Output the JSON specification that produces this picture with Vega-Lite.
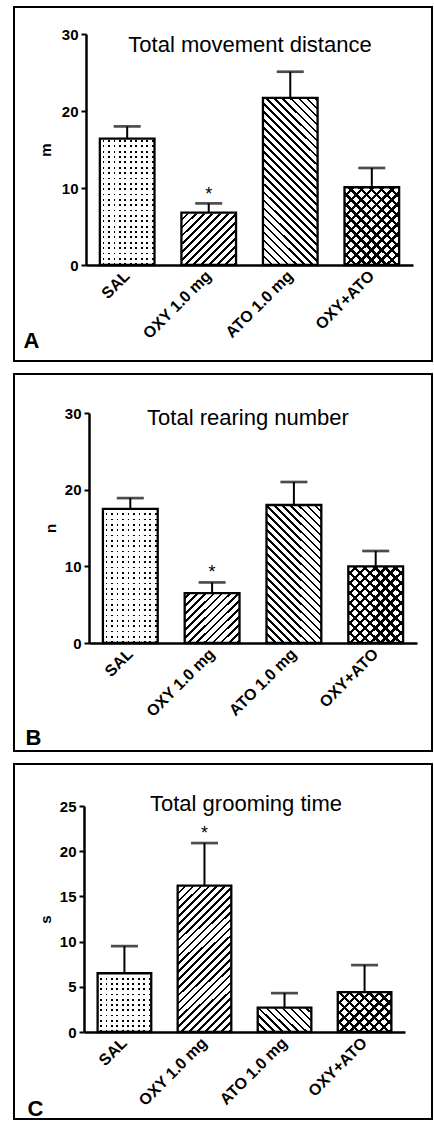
{
"padding": {"left": 13, "top": 6, "right": 0, "bottom": 0},
"background": "#ffffff",
"spacing": 11,
"datasets": {
 "A": [
  {"g": "SAL", "mean": 16.4, "hi": 18.0},
  {"g": "OXY 1.0 mg", "mean": 6.8, "hi": 8.0, "star": 9.6},
  {"g": "ATO 1.0 mg", "mean": 21.7, "hi": 25.1},
  {"g": "OXY+ATO", "mean": 10.1, "hi": 12.6}
 ],
 "B": [
  {"g": "SAL", "mean": 17.5, "hi": 18.9},
  {"g": "OXY 1.0 mg", "mean": 6.5, "hi": 7.9, "star": 9.7},
  {"g": "ATO 1.0 mg", "mean": 18.0, "hi": 21.0},
  {"g": "OXY+ATO", "mean": 10.0, "hi": 12.0}
 ],
 "C": [
  {"g": "SAL", "mean": 6.5, "hi": 9.5},
  {"g": "OXY 1.0 mg", "mean": 16.2, "hi": 20.9, "star": 22.4},
  {"g": "ATO 1.0 mg", "mean": 2.7, "hi": 4.3},
  {"g": "OXY+ATO", "mean": 4.4, "hi": 7.4}
 ]
},
"vconcat": [
 {
  "width": 418, "height": 354,
  "data": {"name": "A"},
  "title": {"text": "Total movement distance", "dx": 27, "offset": -50, "zindex": 1},
  "encoding": {
   "x": {"field": "g", "type": "nominal",
    "scale": {"domain": ["SAL", "OXY 1.0 mg", "ATO 1.0 mg", "OXY+ATO"], "range": [72, 399], "paddingInner": 0.33, "paddingOuter": 0.17},
    "axis": {"title": "A", "zindex": 1, "offset": -96, "labelAngle": -45, "labelAlign": "right", "labelBaseline": "middle", "labelPadding": 8, "labelFontSize": 16, "ticks": false, "tickSize": 0, "labelOverlap": false, "titleX": 9, "titleY": 82, "titleAlign": "left", "titleAngle": 0, "titleBaseline": "alphabetic", "titleFontSize": 22}}
  },
  "layer": [
   {"transform": [{"filter": "datum.g == 'SAL'"}], "mark": {"type": "rect", "style": "dotH"}, "encoding": {"y": {"datum": 30, "type": "quantitative"}, "y2": {"datum": 0}}},
   {"transform": [{"filter": "datum.g == 'SAL'"}], "mark": {"type": "rect", "style": "dotV"}, "encoding": {"y": {"datum": 30, "type": "quantitative"}, "y2": {"datum": 0}}},
   {"transform": [{"filter": "datum.g == 'OXY 1.0 mg'"}], "mark": {"type": "rect", "style": "fwd8"}, "encoding": {"y": {"datum": 30, "type": "quantitative"}, "y2": {"datum": 0}}},
   {"transform": [{"filter": "datum.g == 'ATO 1.0 mg'"}], "mark": {"type": "rect", "style": "back8"}, "encoding": {"y": {"datum": 30, "type": "quantitative"}, "y2": {"datum": 0}}},
   {"transform": [{"filter": "datum.g == 'OXY+ATO'"}], "mark": {"type": "rect", "style": "fwd10"}, "encoding": {"y": {"datum": 30, "type": "quantitative"}, "y2": {"datum": 0}}},
   {"transform": [{"filter": "datum.g == 'OXY+ATO'"}], "mark": {"type": "rect", "style": "back10"}, "encoding": {"y": {"datum": 30, "type": "quantitative"}, "y2": {"datum": 0}}},
   {"mark": {"type": "rect", "fill": "#ffffff", "stroke": "#ffffff", "strokeWidth": 1.5}, "encoding": {"y": {"field": "mean", "type": "quantitative"}, "y2": {"datum": 30}}},
   {"mark": {"type": "rect", "filled": false, "stroke": "#000000", "strokeWidth": 2.3},
    "encoding": {"y": {"field": "mean", "type": "quantitative", "scale": {"domain": [0, 30], "range": [258, 27], "nice": false},
      "axis": {"title": "m", "zindex": 1, "offset": -72, "values": [0, 10, 20, 30], "titleX": -41, "titleY": 142.5, "titleAngle": -90, "titleAlign": "center", "titleBaseline": "middle"}},
     "y2": {"datum": 0}}},
   {"mark": {"type": "rule", "color": "#000000", "strokeWidth": 2}, "encoding": {"y": {"field": "mean", "type": "quantitative"}, "y2": {"field": "hi"}}},
   {"mark": {"type": "tick", "color": "#000000", "size": 27, "thickness": 2.7}, "encoding": {"y": {"field": "hi", "type": "quantitative"}}},
   {"mark": {"type": "text", "text": "*", "fontSize": 18, "baseline": "middle", "dy": 4, "color": "#000000"}, "encoding": {"y": {"field": "star", "type": "quantitative"}}}
  ]
 },
 {
  "width": 418, "height": 377,
  "data": {"name": "B"},
  "title": {"text": "Total rearing number", "dx": 25, "offset": -56, "zindex": 1},
  "encoding": {
   "x": {"field": "g", "type": "nominal",
    "scale": {"domain": ["SAL", "OXY 1.0 mg", "ATO 1.0 mg", "OXY+ATO"], "range": [75, 403], "paddingInner": 0.33, "paddingOuter": 0.17},
    "axis": {"title": "B", "zindex": 1, "offset": -108, "labelAngle": -45, "labelAlign": "right", "labelBaseline": "middle", "labelPadding": 8, "labelFontSize": 16, "ticks": false, "tickSize": 0, "labelOverlap": false, "titleX": 11, "titleY": 101, "titleAlign": "left", "titleAngle": 0, "titleBaseline": "alphabetic", "titleFontSize": 22}}
  },
  "layer": [
   {"transform": [{"filter": "datum.g == 'SAL'"}], "mark": {"type": "rect", "style": "dotH"}, "encoding": {"y": {"datum": 30, "type": "quantitative"}, "y2": {"datum": 0}}},
   {"transform": [{"filter": "datum.g == 'SAL'"}], "mark": {"type": "rect", "style": "dotV"}, "encoding": {"y": {"datum": 30, "type": "quantitative"}, "y2": {"datum": 0}}},
   {"transform": [{"filter": "datum.g == 'OXY 1.0 mg'"}], "mark": {"type": "rect", "style": "fwd8"}, "encoding": {"y": {"datum": 30, "type": "quantitative"}, "y2": {"datum": 0}}},
   {"transform": [{"filter": "datum.g == 'ATO 1.0 mg'"}], "mark": {"type": "rect", "style": "back8"}, "encoding": {"y": {"datum": 30, "type": "quantitative"}, "y2": {"datum": 0}}},
   {"transform": [{"filter": "datum.g == 'OXY+ATO'"}], "mark": {"type": "rect", "style": "fwd10"}, "encoding": {"y": {"datum": 30, "type": "quantitative"}, "y2": {"datum": 0}}},
   {"transform": [{"filter": "datum.g == 'OXY+ATO'"}], "mark": {"type": "rect", "style": "back10"}, "encoding": {"y": {"datum": 30, "type": "quantitative"}, "y2": {"datum": 0}}},
   {"mark": {"type": "rect", "fill": "#ffffff", "stroke": "#ffffff", "strokeWidth": 1.5}, "encoding": {"y": {"field": "mean", "type": "quantitative"}, "y2": {"datum": 30}}},
   {"mark": {"type": "rect", "filled": false, "stroke": "#000000", "strokeWidth": 2.3},
    "encoding": {"y": {"field": "mean", "type": "quantitative", "scale": {"domain": [0, 30], "range": [269, 39], "nice": false},
      "axis": {"title": "n", "zindex": 1, "offset": -75, "values": [0, 10, 20, 30], "titleX": -39, "titleY": 154, "titleAngle": -90, "titleAlign": "center", "titleBaseline": "middle"}},
     "y2": {"datum": 0}}},
   {"mark": {"type": "rule", "color": "#000000", "strokeWidth": 2}, "encoding": {"y": {"field": "mean", "type": "quantitative"}, "y2": {"field": "hi"}}},
   {"mark": {"type": "tick", "color": "#000000", "size": 27, "thickness": 2.7}, "encoding": {"y": {"field": "hi", "type": "quantitative"}}},
   {"mark": {"type": "text", "text": "*", "fontSize": 18, "baseline": "middle", "dy": 4, "color": "#000000"}, "encoding": {"y": {"field": "star", "type": "quantitative"}}}
  ]
 },
 {
  "width": 418, "height": 355,
  "data": {"name": "C"},
  "title": {"text": "Total grooming time", "dx": 23, "offset": -52, "zindex": 1},
  "encoding": {
   "x": {"field": "g", "type": "nominal",
    "scale": {"domain": ["SAL", "OXY 1.0 mg", "ATO 1.0 mg", "OXY+ATO"], "range": [70, 391], "paddingInner": 0.33, "paddingOuter": 0.17},
    "axis": {"title": "C", "zindex": 1, "offset": -87, "labelAngle": -45, "labelAlign": "right", "labelBaseline": "middle", "labelPadding": 8, "labelFontSize": 16, "ticks": false, "tickSize": 0, "labelOverlap": false, "titleX": 13, "titleY": 83, "titleAlign": "left", "titleAngle": 0, "titleBaseline": "alphabetic", "titleFontSize": 22}}
  },
  "layer": [
   {"transform": [{"filter": "datum.g == 'SAL'"}], "mark": {"type": "rect", "style": "dotH"}, "encoding": {"y": {"datum": 25, "type": "quantitative"}, "y2": {"datum": 0}}},
   {"transform": [{"filter": "datum.g == 'SAL'"}], "mark": {"type": "rect", "style": "dotV"}, "encoding": {"y": {"datum": 25, "type": "quantitative"}, "y2": {"datum": 0}}},
   {"transform": [{"filter": "datum.g == 'OXY 1.0 mg'"}], "mark": {"type": "rect", "style": "fwd8"}, "encoding": {"y": {"datum": 25, "type": "quantitative"}, "y2": {"datum": 0}}},
   {"transform": [{"filter": "datum.g == 'ATO 1.0 mg'"}], "mark": {"type": "rect", "style": "back8"}, "encoding": {"y": {"datum": 25, "type": "quantitative"}, "y2": {"datum": 0}}},
   {"transform": [{"filter": "datum.g == 'OXY+ATO'"}], "mark": {"type": "rect", "style": "fwd10"}, "encoding": {"y": {"datum": 25, "type": "quantitative"}, "y2": {"datum": 0}}},
   {"transform": [{"filter": "datum.g == 'OXY+ATO'"}], "mark": {"type": "rect", "style": "back10"}, "encoding": {"y": {"datum": 25, "type": "quantitative"}, "y2": {"datum": 0}}},
   {"mark": {"type": "rect", "fill": "#ffffff", "stroke": "#ffffff", "strokeWidth": 1.5}, "encoding": {"y": {"field": "mean", "type": "quantitative"}, "y2": {"datum": 25}}},
   {"mark": {"type": "rect", "filled": false, "stroke": "#000000", "strokeWidth": 2.3},
    "encoding": {"y": {"field": "mean", "type": "quantitative", "scale": {"domain": [0, 25], "range": [268, 42], "nice": false},
      "axis": {"title": "s", "zindex": 1, "offset": -70, "values": [0, 5, 10, 15, 20, 25], "titleX": -39, "titleY": 155, "titleAngle": -90, "titleAlign": "center", "titleBaseline": "middle"}},
     "y2": {"datum": 0}}},
   {"mark": {"type": "rule", "color": "#000000", "strokeWidth": 2}, "encoding": {"y": {"field": "mean", "type": "quantitative"}, "y2": {"field": "hi"}}},
   {"mark": {"type": "tick", "color": "#000000", "size": 27, "thickness": 2.7}, "encoding": {"y": {"field": "hi", "type": "quantitative"}}},
   {"mark": {"type": "text", "text": "*", "fontSize": 18, "baseline": "middle", "dy": 4, "color": "#000000"}, "encoding": {"y": {"field": "star", "type": "quantitative"}}}
  ]
 }
],
"config": {
 "font": "Liberation Sans",
 "view": {"stroke": "#000000", "strokeWidth": 2},
 "title": {"font": "Liberation Sans", "fontSize": 22, "fontWeight": "normal", "color": "#000000", "anchor": "middle", "frame": "group", "baseline": "alphabetic"},
 "axis": {"grid": false, "domainColor": "#000000", "domainWidth": 2.5, "tickColor": "#000000", "tickWidth": 2, "tickSize": 5, "labelColor": "#000000", "labelFont": "Liberation Sans", "labelFontWeight": "bold", "labelFontSize": 15, "labelPadding": 3, "labelFlush": false, "titleColor": "#000000", "titleFont": "Liberation Sans", "titleFontWeight": "bold", "titleFontSize": 15},
 "style": {
  "fwd8": {"color": {"gradient": "linear", "x1": 0, "y1": 0, "x2": 0.27863, "y2": 1.18676, "stops": [{"offset":0,"color":"#000"},{"offset":0.00926,"color":"#000"},{"offset":0.00926,"color":"transparent"},{"offset":0.02778,"color":"transparent"},{"offset":0.02778,"color":"#000"},{"offset":0.03704,"color":"#000"},{"offset":0.03704,"color":"transparent"},{"offset":0.05556,"color":"transparent"},{"offset":0.05556,"color":"#000"},{"offset":0.06481,"color":"#000"},{"offset":0.06481,"color":"transparent"},{"offset":0.08333,"color":"transparent"},{"offset":0.08333,"color":"#000"},{"offset":0.09259,"color":"#000"},{"offset":0.09259,"color":"transparent"},{"offset":0.11111,"color":"transparent"},{"offset":0.11111,"color":"#000"},{"offset":0.12037,"color":"#000"},{"offset":0.12037,"color":"transparent"},{"offset":0.13889,"color":"transparent"},{"offset":0.13889,"color":"#000"},{"offset":0.14815,"color":"#000"},{"offset":0.14815,"color":"transparent"},{"offset":0.16667,"color":"transparent"},{"offset":0.16667,"color":"#000"},{"offset":0.17593,"color":"#000"},{"offset":0.17593,"color":"transparent"},{"offset":0.19444,"color":"transparent"},{"offset":0.19444,"color":"#000"},{"offset":0.2037,"color":"#000"},{"offset":0.2037,"color":"transparent"},{"offset":0.22222,"color":"transparent"},{"offset":0.22222,"color":"#000"},{"offset":0.23148,"color":"#000"},{"offset":0.23148,"color":"transparent"},{"offset":0.25,"color":"transparent"},{"offset":0.25,"color":"#000"},{"offset":0.25926,"color":"#000"},{"offset":0.25926,"color":"transparent"},{"offset":0.27778,"color":"transparent"},{"offset":0.27778,"color":"#000"},{"offset":0.28704,"color":"#000"},{"offset":0.28704,"color":"transparent"},{"offset":0.30556,"color":"transparent"},{"offset":0.30556,"color":"#000"},{"offset":0.31481,"color":"#000"},{"offset":0.31481,"color":"transparent"},{"offset":0.33333,"color":"transparent"},{"offset":0.33333,"color":"#000"},{"offset":0.34259,"color":"#000"},{"offset":0.34259,"color":"transparent"},{"offset":0.36111,"color":"transparent"},{"offset":0.36111,"color":"#000"},{"offset":0.37037,"color":"#000"},{"offset":0.37037,"color":"transparent"},{"offset":0.38889,"color":"transparent"},{"offset":0.38889,"color":"#000"},{"offset":0.39815,"color":"#000"},{"offset":0.39815,"color":"transparent"},{"offset":0.41667,"color":"transparent"},{"offset":0.41667,"color":"#000"},{"offset":0.42593,"color":"#000"},{"offset":0.42593,"color":"transparent"},{"offset":0.44444,"color":"transparent"},{"offset":0.44444,"color":"#000"},{"offset":0.4537,"color":"#000"},{"offset":0.4537,"color":"transparent"},{"offset":0.47222,"color":"transparent"},{"offset":0.47222,"color":"#000"},{"offset":0.48148,"color":"#000"},{"offset":0.48148,"color":"transparent"},{"offset":0.5,"color":"transparent"},{"offset":0.5,"color":"#000"},{"offset":0.50926,"color":"#000"},{"offset":0.50926,"color":"transparent"},{"offset":0.52778,"color":"transparent"},{"offset":0.52778,"color":"#000"},{"offset":0.53704,"color":"#000"},{"offset":0.53704,"color":"transparent"},{"offset":0.55556,"color":"transparent"},{"offset":0.55556,"color":"#000"},{"offset":0.56481,"color":"#000"},{"offset":0.56481,"color":"transparent"},{"offset":0.58333,"color":"transparent"},{"offset":0.58333,"color":"#000"},{"offset":0.59259,"color":"#000"},{"offset":0.59259,"color":"transparent"},{"offset":0.61111,"color":"transparent"},{"offset":0.61111,"color":"#000"},{"offset":0.62037,"color":"#000"},{"offset":0.62037,"color":"transparent"},{"offset":0.63889,"color":"transparent"},{"offset":0.63889,"color":"#000"},{"offset":0.64815,"color":"#000"},{"offset":0.64815,"color":"transparent"},{"offset":0.66667,"color":"transparent"},{"offset":0.66667,"color":"#000"},{"offset":0.67593,"color":"#000"},{"offset":0.67593,"color":"transparent"},{"offset":0.69444,"color":"transparent"},{"offset":0.69444,"color":"#000"},{"offset":0.7037,"color":"#000"},{"offset":0.7037,"color":"transparent"},{"offset":0.72222,"color":"transparent"},{"offset":0.72222,"color":"#000"},{"offset":0.73148,"color":"#000"},{"offset":0.73148,"color":"transparent"},{"offset":0.75,"color":"transparent"},{"offset":0.75,"color":"#000"},{"offset":0.75926,"color":"#000"},{"offset":0.75926,"color":"transparent"},{"offset":0.77778,"color":"transparent"},{"offset":0.77778,"color":"#000"},{"offset":0.78704,"color":"#000"},{"offset":0.78704,"color":"transparent"},{"offset":0.80556,"color":"transparent"},{"offset":0.80556,"color":"#000"},{"offset":0.81481,"color":"#000"},{"offset":0.81481,"color":"transparent"},{"offset":0.83333,"color":"transparent"},{"offset":0.83333,"color":"#000"},{"offset":0.84259,"color":"#000"},{"offset":0.84259,"color":"transparent"},{"offset":0.86111,"color":"transparent"},{"offset":0.86111,"color":"#000"},{"offset":0.87037,"color":"#000"},{"offset":0.87037,"color":"transparent"},{"offset":0.88889,"color":"transparent"},{"offset":0.88889,"color":"#000"},{"offset":0.89815,"color":"#000"},{"offset":0.89815,"color":"transparent"},{"offset":0.91667,"color":"transparent"},{"offset":0.91667,"color":"#000"},{"offset":0.92593,"color":"#000"},{"offset":0.92593,"color":"transparent"},{"offset":0.94444,"color":"transparent"},{"offset":0.94444,"color":"#000"},{"offset":0.9537,"color":"#000"},{"offset":0.9537,"color":"transparent"},{"offset":0.97222,"color":"transparent"},{"offset":0.97222,"color":"#000"},{"offset":0.98148,"color":"#000"},{"offset":0.98148,"color":"transparent"},{"offset":1,"color":"transparent"}]}},
  "back8": {"color": {"gradient": "linear", "x1": 0, "y1": 1, "x2": 0.27863, "y2": -0.18676, "stops": [{"offset":0,"color":"#000"},{"offset":0.00926,"color":"#000"},{"offset":0.00926,"color":"transparent"},{"offset":0.02778,"color":"transparent"},{"offset":0.02778,"color":"#000"},{"offset":0.03704,"color":"#000"},{"offset":0.03704,"color":"transparent"},{"offset":0.05556,"color":"transparent"},{"offset":0.05556,"color":"#000"},{"offset":0.06481,"color":"#000"},{"offset":0.06481,"color":"transparent"},{"offset":0.08333,"color":"transparent"},{"offset":0.08333,"color":"#000"},{"offset":0.09259,"color":"#000"},{"offset":0.09259,"color":"transparent"},{"offset":0.11111,"color":"transparent"},{"offset":0.11111,"color":"#000"},{"offset":0.12037,"color":"#000"},{"offset":0.12037,"color":"transparent"},{"offset":0.13889,"color":"transparent"},{"offset":0.13889,"color":"#000"},{"offset":0.14815,"color":"#000"},{"offset":0.14815,"color":"transparent"},{"offset":0.16667,"color":"transparent"},{"offset":0.16667,"color":"#000"},{"offset":0.17593,"color":"#000"},{"offset":0.17593,"color":"transparent"},{"offset":0.19444,"color":"transparent"},{"offset":0.19444,"color":"#000"},{"offset":0.2037,"color":"#000"},{"offset":0.2037,"color":"transparent"},{"offset":0.22222,"color":"transparent"},{"offset":0.22222,"color":"#000"},{"offset":0.23148,"color":"#000"},{"offset":0.23148,"color":"transparent"},{"offset":0.25,"color":"transparent"},{"offset":0.25,"color":"#000"},{"offset":0.25926,"color":"#000"},{"offset":0.25926,"color":"transparent"},{"offset":0.27778,"color":"transparent"},{"offset":0.27778,"color":"#000"},{"offset":0.28704,"color":"#000"},{"offset":0.28704,"color":"transparent"},{"offset":0.30556,"color":"transparent"},{"offset":0.30556,"color":"#000"},{"offset":0.31481,"color":"#000"},{"offset":0.31481,"color":"transparent"},{"offset":0.33333,"color":"transparent"},{"offset":0.33333,"color":"#000"},{"offset":0.34259,"color":"#000"},{"offset":0.34259,"color":"transparent"},{"offset":0.36111,"color":"transparent"},{"offset":0.36111,"color":"#000"},{"offset":0.37037,"color":"#000"},{"offset":0.37037,"color":"transparent"},{"offset":0.38889,"color":"transparent"},{"offset":0.38889,"color":"#000"},{"offset":0.39815,"color":"#000"},{"offset":0.39815,"color":"transparent"},{"offset":0.41667,"color":"transparent"},{"offset":0.41667,"color":"#000"},{"offset":0.42593,"color":"#000"},{"offset":0.42593,"color":"transparent"},{"offset":0.44444,"color":"transparent"},{"offset":0.44444,"color":"#000"},{"offset":0.4537,"color":"#000"},{"offset":0.4537,"color":"transparent"},{"offset":0.47222,"color":"transparent"},{"offset":0.47222,"color":"#000"},{"offset":0.48148,"color":"#000"},{"offset":0.48148,"color":"transparent"},{"offset":0.5,"color":"transparent"},{"offset":0.5,"color":"#000"},{"offset":0.50926,"color":"#000"},{"offset":0.50926,"color":"transparent"},{"offset":0.52778,"color":"transparent"},{"offset":0.52778,"color":"#000"},{"offset":0.53704,"color":"#000"},{"offset":0.53704,"color":"transparent"},{"offset":0.55556,"color":"transparent"},{"offset":0.55556,"color":"#000"},{"offset":0.56481,"color":"#000"},{"offset":0.56481,"color":"transparent"},{"offset":0.58333,"color":"transparent"},{"offset":0.58333,"color":"#000"},{"offset":0.59259,"color":"#000"},{"offset":0.59259,"color":"transparent"},{"offset":0.61111,"color":"transparent"},{"offset":0.61111,"color":"#000"},{"offset":0.62037,"color":"#000"},{"offset":0.62037,"color":"transparent"},{"offset":0.63889,"color":"transparent"},{"offset":0.63889,"color":"#000"},{"offset":0.64815,"color":"#000"},{"offset":0.64815,"color":"transparent"},{"offset":0.66667,"color":"transparent"},{"offset":0.66667,"color":"#000"},{"offset":0.67593,"color":"#000"},{"offset":0.67593,"color":"transparent"},{"offset":0.69444,"color":"transparent"},{"offset":0.69444,"color":"#000"},{"offset":0.7037,"color":"#000"},{"offset":0.7037,"color":"transparent"},{"offset":0.72222,"color":"transparent"},{"offset":0.72222,"color":"#000"},{"offset":0.73148,"color":"#000"},{"offset":0.73148,"color":"transparent"},{"offset":0.75,"color":"transparent"},{"offset":0.75,"color":"#000"},{"offset":0.75926,"color":"#000"},{"offset":0.75926,"color":"transparent"},{"offset":0.77778,"color":"transparent"},{"offset":0.77778,"color":"#000"},{"offset":0.78704,"color":"#000"},{"offset":0.78704,"color":"transparent"},{"offset":0.80556,"color":"transparent"},{"offset":0.80556,"color":"#000"},{"offset":0.81481,"color":"#000"},{"offset":0.81481,"color":"transparent"},{"offset":0.83333,"color":"transparent"},{"offset":0.83333,"color":"#000"},{"offset":0.84259,"color":"#000"},{"offset":0.84259,"color":"transparent"},{"offset":0.86111,"color":"transparent"},{"offset":0.86111,"color":"#000"},{"offset":0.87037,"color":"#000"},{"offset":0.87037,"color":"transparent"},{"offset":0.88889,"color":"transparent"},{"offset":0.88889,"color":"#000"},{"offset":0.89815,"color":"#000"},{"offset":0.89815,"color":"transparent"},{"offset":0.91667,"color":"transparent"},{"offset":0.91667,"color":"#000"},{"offset":0.92593,"color":"#000"},{"offset":0.92593,"color":"transparent"},{"offset":0.94444,"color":"transparent"},{"offset":0.94444,"color":"#000"},{"offset":0.9537,"color":"#000"},{"offset":0.9537,"color":"transparent"},{"offset":0.97222,"color":"transparent"},{"offset":0.97222,"color":"#000"},{"offset":0.98148,"color":"#000"},{"offset":0.98148,"color":"transparent"},{"offset":1,"color":"transparent"}]}},
  "fwd10": {"color": {"gradient": "linear", "x1": 0, "y1": 0, "x2": 0.34829, "y2": 1.48345, "stops": [{"offset":0,"color":"#000"},{"offset":0.00926,"color":"#000"},{"offset":0.00926,"color":"transparent"},{"offset":0.02778,"color":"transparent"},{"offset":0.02778,"color":"#000"},{"offset":0.03704,"color":"#000"},{"offset":0.03704,"color":"transparent"},{"offset":0.05556,"color":"transparent"},{"offset":0.05556,"color":"#000"},{"offset":0.06481,"color":"#000"},{"offset":0.06481,"color":"transparent"},{"offset":0.08333,"color":"transparent"},{"offset":0.08333,"color":"#000"},{"offset":0.09259,"color":"#000"},{"offset":0.09259,"color":"transparent"},{"offset":0.11111,"color":"transparent"},{"offset":0.11111,"color":"#000"},{"offset":0.12037,"color":"#000"},{"offset":0.12037,"color":"transparent"},{"offset":0.13889,"color":"transparent"},{"offset":0.13889,"color":"#000"},{"offset":0.14815,"color":"#000"},{"offset":0.14815,"color":"transparent"},{"offset":0.16667,"color":"transparent"},{"offset":0.16667,"color":"#000"},{"offset":0.17593,"color":"#000"},{"offset":0.17593,"color":"transparent"},{"offset":0.19444,"color":"transparent"},{"offset":0.19444,"color":"#000"},{"offset":0.2037,"color":"#000"},{"offset":0.2037,"color":"transparent"},{"offset":0.22222,"color":"transparent"},{"offset":0.22222,"color":"#000"},{"offset":0.23148,"color":"#000"},{"offset":0.23148,"color":"transparent"},{"offset":0.25,"color":"transparent"},{"offset":0.25,"color":"#000"},{"offset":0.25926,"color":"#000"},{"offset":0.25926,"color":"transparent"},{"offset":0.27778,"color":"transparent"},{"offset":0.27778,"color":"#000"},{"offset":0.28704,"color":"#000"},{"offset":0.28704,"color":"transparent"},{"offset":0.30556,"color":"transparent"},{"offset":0.30556,"color":"#000"},{"offset":0.31481,"color":"#000"},{"offset":0.31481,"color":"transparent"},{"offset":0.33333,"color":"transparent"},{"offset":0.33333,"color":"#000"},{"offset":0.34259,"color":"#000"},{"offset":0.34259,"color":"transparent"},{"offset":0.36111,"color":"transparent"},{"offset":0.36111,"color":"#000"},{"offset":0.37037,"color":"#000"},{"offset":0.37037,"color":"transparent"},{"offset":0.38889,"color":"transparent"},{"offset":0.38889,"color":"#000"},{"offset":0.39815,"color":"#000"},{"offset":0.39815,"color":"transparent"},{"offset":0.41667,"color":"transparent"},{"offset":0.41667,"color":"#000"},{"offset":0.42593,"color":"#000"},{"offset":0.42593,"color":"transparent"},{"offset":0.44444,"color":"transparent"},{"offset":0.44444,"color":"#000"},{"offset":0.4537,"color":"#000"},{"offset":0.4537,"color":"transparent"},{"offset":0.47222,"color":"transparent"},{"offset":0.47222,"color":"#000"},{"offset":0.48148,"color":"#000"},{"offset":0.48148,"color":"transparent"},{"offset":0.5,"color":"transparent"},{"offset":0.5,"color":"#000"},{"offset":0.50926,"color":"#000"},{"offset":0.50926,"color":"transparent"},{"offset":0.52778,"color":"transparent"},{"offset":0.52778,"color":"#000"},{"offset":0.53704,"color":"#000"},{"offset":0.53704,"color":"transparent"},{"offset":0.55556,"color":"transparent"},{"offset":0.55556,"color":"#000"},{"offset":0.56481,"color":"#000"},{"offset":0.56481,"color":"transparent"},{"offset":0.58333,"color":"transparent"},{"offset":0.58333,"color":"#000"},{"offset":0.59259,"color":"#000"},{"offset":0.59259,"color":"transparent"},{"offset":0.61111,"color":"transparent"},{"offset":0.61111,"color":"#000"},{"offset":0.62037,"color":"#000"},{"offset":0.62037,"color":"transparent"},{"offset":0.63889,"color":"transparent"},{"offset":0.63889,"color":"#000"},{"offset":0.64815,"color":"#000"},{"offset":0.64815,"color":"transparent"},{"offset":0.66667,"color":"transparent"},{"offset":0.66667,"color":"#000"},{"offset":0.67593,"color":"#000"},{"offset":0.67593,"color":"transparent"},{"offset":0.69444,"color":"transparent"},{"offset":0.69444,"color":"#000"},{"offset":0.7037,"color":"#000"},{"offset":0.7037,"color":"transparent"},{"offset":0.72222,"color":"transparent"},{"offset":0.72222,"color":"#000"},{"offset":0.73148,"color":"#000"},{"offset":0.73148,"color":"transparent"},{"offset":0.75,"color":"transparent"},{"offset":0.75,"color":"#000"},{"offset":0.75926,"color":"#000"},{"offset":0.75926,"color":"transparent"},{"offset":0.77778,"color":"transparent"},{"offset":0.77778,"color":"#000"},{"offset":0.78704,"color":"#000"},{"offset":0.78704,"color":"transparent"},{"offset":0.80556,"color":"transparent"},{"offset":0.80556,"color":"#000"},{"offset":0.81481,"color":"#000"},{"offset":0.81481,"color":"transparent"},{"offset":0.83333,"color":"transparent"},{"offset":0.83333,"color":"#000"},{"offset":0.84259,"color":"#000"},{"offset":0.84259,"color":"transparent"},{"offset":0.86111,"color":"transparent"},{"offset":0.86111,"color":"#000"},{"offset":0.87037,"color":"#000"},{"offset":0.87037,"color":"transparent"},{"offset":0.88889,"color":"transparent"},{"offset":0.88889,"color":"#000"},{"offset":0.89815,"color":"#000"},{"offset":0.89815,"color":"transparent"},{"offset":0.91667,"color":"transparent"},{"offset":0.91667,"color":"#000"},{"offset":0.92593,"color":"#000"},{"offset":0.92593,"color":"transparent"},{"offset":0.94444,"color":"transparent"},{"offset":0.94444,"color":"#000"},{"offset":0.9537,"color":"#000"},{"offset":0.9537,"color":"transparent"},{"offset":0.97222,"color":"transparent"},{"offset":0.97222,"color":"#000"},{"offset":0.98148,"color":"#000"},{"offset":0.98148,"color":"transparent"},{"offset":1,"color":"transparent"}]}},
  "back10": {"color": {"gradient": "linear", "x1": 0, "y1": 1, "x2": 0.34829, "y2": -0.48345, "stops": [{"offset":0,"color":"#000"},{"offset":0.00926,"color":"#000"},{"offset":0.00926,"color":"transparent"},{"offset":0.02778,"color":"transparent"},{"offset":0.02778,"color":"#000"},{"offset":0.03704,"color":"#000"},{"offset":0.03704,"color":"transparent"},{"offset":0.05556,"color":"transparent"},{"offset":0.05556,"color":"#000"},{"offset":0.06481,"color":"#000"},{"offset":0.06481,"color":"transparent"},{"offset":0.08333,"color":"transparent"},{"offset":0.08333,"color":"#000"},{"offset":0.09259,"color":"#000"},{"offset":0.09259,"color":"transparent"},{"offset":0.11111,"color":"transparent"},{"offset":0.11111,"color":"#000"},{"offset":0.12037,"color":"#000"},{"offset":0.12037,"color":"transparent"},{"offset":0.13889,"color":"transparent"},{"offset":0.13889,"color":"#000"},{"offset":0.14815,"color":"#000"},{"offset":0.14815,"color":"transparent"},{"offset":0.16667,"color":"transparent"},{"offset":0.16667,"color":"#000"},{"offset":0.17593,"color":"#000"},{"offset":0.17593,"color":"transparent"},{"offset":0.19444,"color":"transparent"},{"offset":0.19444,"color":"#000"},{"offset":0.2037,"color":"#000"},{"offset":0.2037,"color":"transparent"},{"offset":0.22222,"color":"transparent"},{"offset":0.22222,"color":"#000"},{"offset":0.23148,"color":"#000"},{"offset":0.23148,"color":"transparent"},{"offset":0.25,"color":"transparent"},{"offset":0.25,"color":"#000"},{"offset":0.25926,"color":"#000"},{"offset":0.25926,"color":"transparent"},{"offset":0.27778,"color":"transparent"},{"offset":0.27778,"color":"#000"},{"offset":0.28704,"color":"#000"},{"offset":0.28704,"color":"transparent"},{"offset":0.30556,"color":"transparent"},{"offset":0.30556,"color":"#000"},{"offset":0.31481,"color":"#000"},{"offset":0.31481,"color":"transparent"},{"offset":0.33333,"color":"transparent"},{"offset":0.33333,"color":"#000"},{"offset":0.34259,"color":"#000"},{"offset":0.34259,"color":"transparent"},{"offset":0.36111,"color":"transparent"},{"offset":0.36111,"color":"#000"},{"offset":0.37037,"color":"#000"},{"offset":0.37037,"color":"transparent"},{"offset":0.38889,"color":"transparent"},{"offset":0.38889,"color":"#000"},{"offset":0.39815,"color":"#000"},{"offset":0.39815,"color":"transparent"},{"offset":0.41667,"color":"transparent"},{"offset":0.41667,"color":"#000"},{"offset":0.42593,"color":"#000"},{"offset":0.42593,"color":"transparent"},{"offset":0.44444,"color":"transparent"},{"offset":0.44444,"color":"#000"},{"offset":0.4537,"color":"#000"},{"offset":0.4537,"color":"transparent"},{"offset":0.47222,"color":"transparent"},{"offset":0.47222,"color":"#000"},{"offset":0.48148,"color":"#000"},{"offset":0.48148,"color":"transparent"},{"offset":0.5,"color":"transparent"},{"offset":0.5,"color":"#000"},{"offset":0.50926,"color":"#000"},{"offset":0.50926,"color":"transparent"},{"offset":0.52778,"color":"transparent"},{"offset":0.52778,"color":"#000"},{"offset":0.53704,"color":"#000"},{"offset":0.53704,"color":"transparent"},{"offset":0.55556,"color":"transparent"},{"offset":0.55556,"color":"#000"},{"offset":0.56481,"color":"#000"},{"offset":0.56481,"color":"transparent"},{"offset":0.58333,"color":"transparent"},{"offset":0.58333,"color":"#000"},{"offset":0.59259,"color":"#000"},{"offset":0.59259,"color":"transparent"},{"offset":0.61111,"color":"transparent"},{"offset":0.61111,"color":"#000"},{"offset":0.62037,"color":"#000"},{"offset":0.62037,"color":"transparent"},{"offset":0.63889,"color":"transparent"},{"offset":0.63889,"color":"#000"},{"offset":0.64815,"color":"#000"},{"offset":0.64815,"color":"transparent"},{"offset":0.66667,"color":"transparent"},{"offset":0.66667,"color":"#000"},{"offset":0.67593,"color":"#000"},{"offset":0.67593,"color":"transparent"},{"offset":0.69444,"color":"transparent"},{"offset":0.69444,"color":"#000"},{"offset":0.7037,"color":"#000"},{"offset":0.7037,"color":"transparent"},{"offset":0.72222,"color":"transparent"},{"offset":0.72222,"color":"#000"},{"offset":0.73148,"color":"#000"},{"offset":0.73148,"color":"transparent"},{"offset":0.75,"color":"transparent"},{"offset":0.75,"color":"#000"},{"offset":0.75926,"color":"#000"},{"offset":0.75926,"color":"transparent"},{"offset":0.77778,"color":"transparent"},{"offset":0.77778,"color":"#000"},{"offset":0.78704,"color":"#000"},{"offset":0.78704,"color":"transparent"},{"offset":0.80556,"color":"transparent"},{"offset":0.80556,"color":"#000"},{"offset":0.81481,"color":"#000"},{"offset":0.81481,"color":"transparent"},{"offset":0.83333,"color":"transparent"},{"offset":0.83333,"color":"#000"},{"offset":0.84259,"color":"#000"},{"offset":0.84259,"color":"transparent"},{"offset":0.86111,"color":"transparent"},{"offset":0.86111,"color":"#000"},{"offset":0.87037,"color":"#000"},{"offset":0.87037,"color":"transparent"},{"offset":0.88889,"color":"transparent"},{"offset":0.88889,"color":"#000"},{"offset":0.89815,"color":"#000"},{"offset":0.89815,"color":"transparent"},{"offset":0.91667,"color":"transparent"},{"offset":0.91667,"color":"#000"},{"offset":0.92593,"color":"#000"},{"offset":0.92593,"color":"transparent"},{"offset":0.94444,"color":"transparent"},{"offset":0.94444,"color":"#000"},{"offset":0.9537,"color":"#000"},{"offset":0.9537,"color":"transparent"},{"offset":0.97222,"color":"transparent"},{"offset":0.97222,"color":"#000"},{"offset":0.98148,"color":"#000"},{"offset":0.98148,"color":"transparent"},{"offset":1,"color":"transparent"}]}},
  "dotH": {"color": {"gradient": "linear", "x1": 0, "y1": 1, "x2": 0, "y2": 0.1652, "stops": [{"offset":0,"color":"#000"},{"offset":0.00926,"color":"#000"},{"offset":0.00926,"color":"transparent"},{"offset":0.02778,"color":"transparent"},{"offset":0.02778,"color":"#000"},{"offset":0.03704,"color":"#000"},{"offset":0.03704,"color":"transparent"},{"offset":0.05556,"color":"transparent"},{"offset":0.05556,"color":"#000"},{"offset":0.06481,"color":"#000"},{"offset":0.06481,"color":"transparent"},{"offset":0.08333,"color":"transparent"},{"offset":0.08333,"color":"#000"},{"offset":0.09259,"color":"#000"},{"offset":0.09259,"color":"transparent"},{"offset":0.11111,"color":"transparent"},{"offset":0.11111,"color":"#000"},{"offset":0.12037,"color":"#000"},{"offset":0.12037,"color":"transparent"},{"offset":0.13889,"color":"transparent"},{"offset":0.13889,"color":"#000"},{"offset":0.14815,"color":"#000"},{"offset":0.14815,"color":"transparent"},{"offset":0.16667,"color":"transparent"},{"offset":0.16667,"color":"#000"},{"offset":0.17593,"color":"#000"},{"offset":0.17593,"color":"transparent"},{"offset":0.19444,"color":"transparent"},{"offset":0.19444,"color":"#000"},{"offset":0.2037,"color":"#000"},{"offset":0.2037,"color":"transparent"},{"offset":0.22222,"color":"transparent"},{"offset":0.22222,"color":"#000"},{"offset":0.23148,"color":"#000"},{"offset":0.23148,"color":"transparent"},{"offset":0.25,"color":"transparent"},{"offset":0.25,"color":"#000"},{"offset":0.25926,"color":"#000"},{"offset":0.25926,"color":"transparent"},{"offset":0.27778,"color":"transparent"},{"offset":0.27778,"color":"#000"},{"offset":0.28704,"color":"#000"},{"offset":0.28704,"color":"transparent"},{"offset":0.30556,"color":"transparent"},{"offset":0.30556,"color":"#000"},{"offset":0.31481,"color":"#000"},{"offset":0.31481,"color":"transparent"},{"offset":0.33333,"color":"transparent"},{"offset":0.33333,"color":"#000"},{"offset":0.34259,"color":"#000"},{"offset":0.34259,"color":"transparent"},{"offset":0.36111,"color":"transparent"},{"offset":0.36111,"color":"#000"},{"offset":0.37037,"color":"#000"},{"offset":0.37037,"color":"transparent"},{"offset":0.38889,"color":"transparent"},{"offset":0.38889,"color":"#000"},{"offset":0.39815,"color":"#000"},{"offset":0.39815,"color":"transparent"},{"offset":0.41667,"color":"transparent"},{"offset":0.41667,"color":"#000"},{"offset":0.42593,"color":"#000"},{"offset":0.42593,"color":"transparent"},{"offset":0.44444,"color":"transparent"},{"offset":0.44444,"color":"#000"},{"offset":0.4537,"color":"#000"},{"offset":0.4537,"color":"transparent"},{"offset":0.47222,"color":"transparent"},{"offset":0.47222,"color":"#000"},{"offset":0.48148,"color":"#000"},{"offset":0.48148,"color":"transparent"},{"offset":0.5,"color":"transparent"},{"offset":0.5,"color":"#000"},{"offset":0.50926,"color":"#000"},{"offset":0.50926,"color":"transparent"},{"offset":0.52778,"color":"transparent"},{"offset":0.52778,"color":"#000"},{"offset":0.53704,"color":"#000"},{"offset":0.53704,"color":"transparent"},{"offset":0.55556,"color":"transparent"},{"offset":0.55556,"color":"#000"},{"offset":0.56481,"color":"#000"},{"offset":0.56481,"color":"transparent"},{"offset":0.58333,"color":"transparent"},{"offset":0.58333,"color":"#000"},{"offset":0.59259,"color":"#000"},{"offset":0.59259,"color":"transparent"},{"offset":0.61111,"color":"transparent"},{"offset":0.61111,"color":"#000"},{"offset":0.62037,"color":"#000"},{"offset":0.62037,"color":"transparent"},{"offset":0.63889,"color":"transparent"},{"offset":0.63889,"color":"#000"},{"offset":0.64815,"color":"#000"},{"offset":0.64815,"color":"transparent"},{"offset":0.66667,"color":"transparent"},{"offset":0.66667,"color":"#000"},{"offset":0.67593,"color":"#000"},{"offset":0.67593,"color":"transparent"},{"offset":0.69444,"color":"transparent"},{"offset":0.69444,"color":"#000"},{"offset":0.7037,"color":"#000"},{"offset":0.7037,"color":"transparent"},{"offset":0.72222,"color":"transparent"},{"offset":0.72222,"color":"#000"},{"offset":0.73148,"color":"#000"},{"offset":0.73148,"color":"transparent"},{"offset":0.75,"color":"transparent"},{"offset":0.75,"color":"#000"},{"offset":0.75926,"color":"#000"},{"offset":0.75926,"color":"transparent"},{"offset":0.77778,"color":"transparent"},{"offset":0.77778,"color":"#000"},{"offset":0.78704,"color":"#000"},{"offset":0.78704,"color":"transparent"},{"offset":0.80556,"color":"transparent"},{"offset":0.80556,"color":"#000"},{"offset":0.81481,"color":"#000"},{"offset":0.81481,"color":"transparent"},{"offset":0.83333,"color":"transparent"},{"offset":0.83333,"color":"#000"},{"offset":0.84259,"color":"#000"},{"offset":0.84259,"color":"transparent"},{"offset":0.86111,"color":"transparent"},{"offset":0.86111,"color":"#000"},{"offset":0.87037,"color":"#000"},{"offset":0.87037,"color":"transparent"},{"offset":0.88889,"color":"transparent"},{"offset":0.88889,"color":"#000"},{"offset":0.89815,"color":"#000"},{"offset":0.89815,"color":"transparent"},{"offset":0.91667,"color":"transparent"},{"offset":0.91667,"color":"#000"},{"offset":0.92593,"color":"#000"},{"offset":0.92593,"color":"transparent"},{"offset":0.94444,"color":"transparent"},{"offset":0.94444,"color":"#000"},{"offset":0.9537,"color":"#000"},{"offset":0.9537,"color":"transparent"},{"offset":0.97222,"color":"transparent"},{"offset":0.97222,"color":"#000"},{"offset":0.98148,"color":"#000"},{"offset":0.98148,"color":"transparent"},{"offset":1,"color":"transparent"}]}},
  "dotV": {"color": {"gradient": "linear", "x1": 0, "y1": 0, "x2": 1, "y2": 0, "stops": [{"offset":0,"color":"#fff"},{"offset":0.05,"color":"#fff"},{"offset":0.05,"color":"transparent"},{"offset":0.0833,"color":"transparent"},{"offset":0.0833,"color":"#fff"},{"offset":0.15,"color":"#fff"},{"offset":0.15,"color":"transparent"},{"offset":0.1833,"color":"transparent"},{"offset":0.1833,"color":"#fff"},{"offset":0.25,"color":"#fff"},{"offset":0.25,"color":"transparent"},{"offset":0.2833,"color":"transparent"},{"offset":0.2833,"color":"#fff"},{"offset":0.35,"color":"#fff"},{"offset":0.35,"color":"transparent"},{"offset":0.3833,"color":"transparent"},{"offset":0.3833,"color":"#fff"},{"offset":0.45,"color":"#fff"},{"offset":0.45,"color":"transparent"},{"offset":0.4833,"color":"transparent"},{"offset":0.4833,"color":"#fff"},{"offset":0.55,"color":"#fff"},{"offset":0.55,"color":"transparent"},{"offset":0.5833,"color":"transparent"},{"offset":0.5833,"color":"#fff"},{"offset":0.65,"color":"#fff"},{"offset":0.65,"color":"transparent"},{"offset":0.6833,"color":"transparent"},{"offset":0.6833,"color":"#fff"},{"offset":0.75,"color":"#fff"},{"offset":0.75,"color":"transparent"},{"offset":0.7833,"color":"transparent"},{"offset":0.7833,"color":"#fff"},{"offset":0.85,"color":"#fff"},{"offset":0.85,"color":"transparent"},{"offset":0.8833,"color":"transparent"},{"offset":0.8833,"color":"#fff"},{"offset":0.95,"color":"#fff"},{"offset":0.95,"color":"transparent"},{"offset":0.9833,"color":"transparent"},{"offset":0.9833,"color":"#fff"},{"offset":1,"color":"#fff"}]}}
 }
}
}
